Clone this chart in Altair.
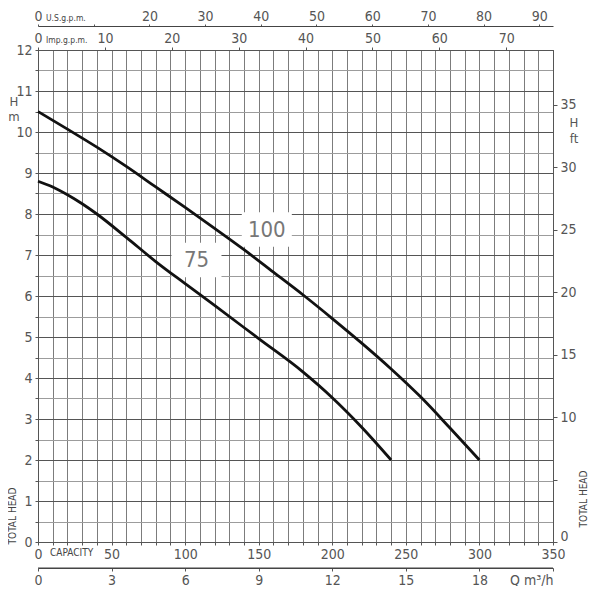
import altair as alt
import pandas as pd

# ---- curve data (Q in l/min, H in m) ----
q_100 = [0, 20, 40, 60, 80, 100, 120, 140, 160, 180, 200, 220, 240, 260, 280, 300]
h_100 = [10.50, 10.07, 9.63, 9.16, 8.66, 8.16, 7.65, 7.13, 6.58, 6.03, 5.45, 4.85, 4.22, 3.54, 2.78, 2.00]
q_75 = [0, 10, 20, 30, 40, 60, 80, 100, 120, 150, 180, 200, 220, 240]
h_75 = [8.80, 8.66, 8.47, 8.25, 8.00, 7.43, 6.84, 6.30, 5.77, 4.96, 4.15, 3.52, 2.80, 2.00]

curve_names = ["100", "75"]
label_q = [155.5, 107.7]
label_h = [7.62, 6.88]

# ---- tick values ----
capacity_ticks = list(range(0, 351, 10))
head_m_ticks = [i * 0.25 for i in range(49)]
head_ft_ticks = [0, 5, 10, 15, 20, 25, 30, 35]
imp_ticks = [0, 10, 20, 30, 40, 50, 60, 70]
us_ticks = [0, 10, 20, 30, 40, 50, 60, 70, 80, 90]
m3h_ticks = [0, 3, 6, 9, 12, 15, 18, 21]

Q_MAX = 350.0
H_MAX = 12.0
FT_PER_M = 3.28084
LPM_PER_IMP = 4.54609
LPM_PER_US = 3.785412
LPM_PER_M3H = 1000.0 / 60.0

W, H = 515, 492
M3H_OFFSET = 26
FONT = "Liberation Sans Narrow, DejaVu Sans Condensed, Arial Narrow, sans-serif"
LABEL = "#555555"
FRAME = "#555555"
BOX_DQ = 17.0
BOX_DH = 0.42

curves = pd.DataFrame({
    "q": q_100 + q_75,
    "h": h_100 + h_75,
    "pump": ["100"] * len(q_100) + ["75"] * len(q_75),
})
labels = pd.DataFrame({"q": label_q, "h": label_h, "name": curve_names})


def q_scale():
    return alt.Scale(domain=[0, Q_MAX], nice=False, zero=False)


def h_scale():
    return alt.Scale(domain=[0, H_MAX], nice=False, zero=False)


common_axis = dict(labelFont=FONT, labelFontSize=14, labelColor=LABEL,
                   tickColor=FRAME, labelFlush=False, labelOverlap=False, title=None)

x_axis = alt.Axis(orient="bottom", values=capacity_ticks, tickCount=len(capacity_ticks), format="d",
                  labelExpr="datum.value % 50 === 0 ? datum.label : ''",
                  tickSize=3, labelPadding=2, grid=True, gridColor="#7c7c7c",
                  gridWidth=1, domainColor=FRAME, domainWidth=1, **common_axis)
y_axis = alt.Axis(orient="left", values=head_m_ticks, tickCount=len(head_m_ticks), tickMinStep=0.25,
                  labelExpr="datum.value % 1 === 0 ? format(datum.value, 'd') : ''",
                  tickSize=3, labelPadding=3, grid=True,
                  gridColor={"condition": {"test": "datum.value % 1 === 0", "value": "#555555"},
                             "value": "#9c9c9c"},
                  gridWidth=1, domainColor=FRAME, domainWidth=1, **common_axis)

lines = alt.Chart(curves).mark_line(color="#111111", strokeWidth=2.8, interpolate="monotone").encode(
    x=alt.X("q:Q", scale=q_scale(), axis=x_axis),
    y=alt.Y("h:Q", scale=h_scale(), axis=y_axis),
    detail="pump:N",
)

boxes = alt.Chart(labels).mark_rect(color="white").transform_calculate(
    q1=f"datum.q - {BOX_DQ}", q2=f"datum.q + {BOX_DQ}",
    h1=f"datum.h - {BOX_DH}", h2=f"datum.h + {BOX_DH}",
).encode(
    x=alt.X("q1:Q", scale=q_scale(), axis=None), x2="q2:Q",
    y=alt.Y("h1:Q", scale=h_scale(), axis=None), y2="h2:Q",
)

texts = alt.Chart(labels).mark_text(font=FONT, fontSize=22, color="#777777").encode(
    x=alt.X("q:Q", scale=q_scale(), axis=None),
    y=alt.Y("h:Q", scale=h_scale(), axis=None),
    text="name:N",
)

ft_layer = alt.Chart(pd.DataFrame({"ft": head_ft_ticks})).mark_rule(opacity=0).encode(
    y=alt.Y("ft:Q", scale=alt.Scale(domain=[0, H_MAX * FT_PER_M], nice=False, zero=False),
            axis=alt.Axis(orient="right", values=head_ft_ticks, tickCount=len(head_ft_ticks), format="d",
                          labelExpr="datum.value === 5 ? '' : datum.label",
                          labelOffset={"condition": {"test": "datum.value === 0", "value": -6},
                                       "value": 0},
                          tickSize=4, labelPadding=3, grid=False,
                          domainColor=FRAME, domainWidth=1, **common_axis))
)

imp_layer = alt.Chart(pd.DataFrame({"imp": imp_ticks})).mark_rule(opacity=0).encode(
    x=alt.X("imp:Q", scale=alt.Scale(domain=[0, Q_MAX / LPM_PER_IMP], nice=False, zero=False),
            axis=alt.Axis(orient="top", offset=0, values=imp_ticks, tickCount=len(imp_ticks), format="d",
                          tickSize=3, labelPadding=2, grid=False,
                          domainColor=FRAME, domainWidth=1, **common_axis))
)

us_layer = alt.Chart(pd.DataFrame({"us": us_ticks})).mark_rule(opacity=0).encode(
    x=alt.X("us:Q", scale=alt.Scale(domain=[0, Q_MAX / LPM_PER_US], nice=False, zero=False),
            axis=alt.Axis(orient="top", offset=24, values=us_ticks, tickCount=len(us_ticks), format="d",
                          labelExpr="datum.value === 10 ? '' : datum.label",
                          tickSize=2, labelPadding=1, grid=False,
                          domainColor="#444444", domainWidth=1.2, **common_axis))
)

# m3/h axis: its baseline drawn as a rule spanning the m3/h scale, plus the axis itself
m3h_span = pd.DataFrame({"m3h": [m3h_ticks[0]], "m3h_end": [m3h_ticks[-1]]})
m3h_layer = alt.Chart(m3h_span).mark_rule(color="#444444", strokeWidth=1.2).encode(
    x=alt.X("m3h:Q", scale=alt.Scale(domain=[0, Q_MAX / LPM_PER_M3H], nice=False, zero=False),
            axis=alt.Axis(orient="bottom", offset=M3H_OFFSET, values=m3h_ticks,
                          tickCount=len(m3h_ticks), format="d",
                          labelExpr="datum.value === 21 ? 'Q  m\u00b3/h' : datum.label",
                          labelAlign={"condition": {"test": "datum.value === 21", "value": "right"},
                                      "value": "center"},
                          tickSize=3, labelPadding=2, grid=False,
                          domain=True, domainColor="#444444", domainWidth=1.2, **common_axis)),
    x2="m3h_end:Q",
    y=alt.value(H + M3H_OFFSET),
)


def note(text, x, y, size, angle=0, align="center", baseline="middle", color="#444444"):
    return alt.Chart(pd.DataFrame({"t": [text]})).mark_text(
        font=FONT, fontSize=size, angle=angle, align=align, baseline=baseline, color=color
    ).encode(x=alt.value(x), y=alt.value(y), text="t:N")


notes = [
    note("H", -24, 52, 13, color=LABEL),
    note("m", -24, 67, 13, color=LABEL),
    note("TOTAL HEAD", -25, 466, 10, angle=270),
    note("H", 536, 73, 13, color=LABEL),
    note("ft", 536, 89, 13, color=LABEL),
    note("TOTAL HEAD", 546, 449, 10, angle=270),
    note("U.S.g.p.m.", 8, -27, 8.5, align="left", baseline="bottom"),
    note("Imp.g.p.m.", 8, -5, 8.5, align="left", baseline="bottom"),
    note("CAPACITY", 12, H + 11, 10, align="left", baseline="middle"),
]

chart = alt.layer(boxes, texts, lines, ft_layer, imp_layer, us_layer, m3h_layer, *notes).resolve_scale(
    x="independent", y="independent"
).properties(
    width=W, height=H,
    padding={"left": 30, "top": 42, "right": 37, "bottom": 44},
    autosize=alt.AutoSizeParams(type="none"),
    background="white",
).configure(font=FONT).configure_view(stroke=FRAME, strokeWidth=1)

chart.save("out.html", embed_options={"renderer": "svg", "actions": False})
